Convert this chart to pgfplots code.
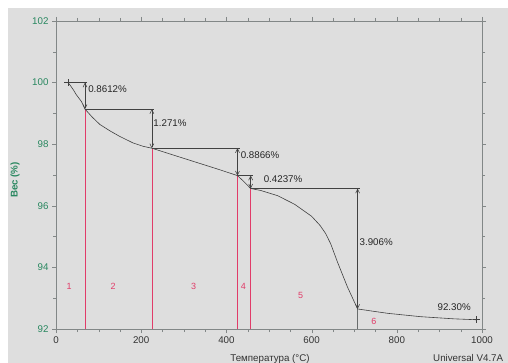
\documentclass[border=0pt]{standalone}
\usepackage{fontspec}
\setmainfont{Liberation Sans}
\usepackage{pgfplots}
\pgfplotsset{compat=1.18}
\usetikzlibrary{arrows.meta}
\definecolor{bg}{RGB}{222,222,222}
\definecolor{ygreen}{RGB}{40,135,95}
\definecolor{segred}{RGB}{225,60,105}
\definecolor{axgray}{RGB}{130,135,135}
\definecolor{curvec}{RGB}{65,65,65}
\begin{document}
\begin{tikzpicture}[font=\fontsize{9.8}{11}\selectfont]
\useasboundingbox (0,0) rectangle (508bp,363bp);
\fill[white] (0,0) rectangle (508bp,363bp);
\fill[bg] (8bp,0) rectangle (508bp,355bp);
\begin{axis}[at={(56bp,34bp)}, anchor=south west, scale only axis,
  width=426bp, height=308bp,
  xmin=0, xmax=1000, ymin=92, ymax=102,
  xtick={0,200,...,1000}, ytick={92,94,...,102},
  minor x tick num=3, minor y tick num=1,
  tick align=outside, axis line style={axgray}, tick style={axgray},
  major tick length=4bp, minor tick length=3bp,
  xticklabel style={text=black!80},
  yticklabel style={text=ygreen},
  /pgf/number format/assume math mode=true,
  /pgf/number format/1000 sep={},
  clip=false]
% red segment lines
\addplot[segred, line width=0.7bp] coordinates {(68,92) (68,99.14)};
\addplot[segred, line width=0.7bp] coordinates {(225,92) (225,97.87)};
\addplot[segred, line width=0.7bp] coordinates {(426,92) (426,96.98)};
\addplot[segred, line width=0.7bp] coordinates {(457,92) (457,96.56)};
\addplot[axgray!80!black, line width=0.6bp] coordinates {(708,92) (708,92.65)};
% horizontal reference lines
\addplot[curvec, line width=0.55bp] coordinates {(28,100.0) (72,100.0)};
\addplot[curvec, line width=0.55bp] coordinates {(68,99.14) (231,99.14)};
\addplot[curvec, line width=0.55bp] coordinates {(225,97.87) (432,97.87)};
\addplot[curvec, line width=0.55bp] coordinates {(426,96.98) (463,96.98)};
\addplot[curvec, line width=0.55bp] coordinates {(457,96.56) (713,96.56)};
% step arrows
\addplot[curvec, line width=0.55bp, {Straight Barb[length=4bp,width=4bp]}-{Straight Barb[length=4bp,width=4bp]}] coordinates {(68,100.0) (68,99.14)};
\addplot[curvec, line width=0.55bp, {Straight Barb[length=4bp,width=4bp]}-{Straight Barb[length=4bp,width=4bp]}] coordinates {(225,99.14) (225,97.87)};
\addplot[curvec, line width=0.55bp, {Straight Barb[length=4bp,width=4bp]}-{Straight Barb[length=4bp,width=4bp]}] coordinates {(426,97.87) (426,96.98)};
\addplot[curvec, line width=0.55bp, {Straight Barb[length=4bp,width=4bp]}-{Straight Barb[length=4bp,width=4bp]}] coordinates {(457,96.98) (457,96.56)};
\addplot[curvec, line width=0.55bp, {Straight Barb[length=4bp,width=4bp]}-{Straight Barb[length=4bp,width=4bp]}] coordinates {(708,96.56) (708,92.65)};
% TGA curve
\addplot[curvec, line width=0.6bp] table {
x y
28 100.00
33 99.92
41 99.76
48 99.60
60 99.38
68 99.14
85 98.88
103 98.64
127 98.43
150 98.25
181 98.04
205 97.93
225 97.87
300 97.54
380 97.19
426 96.98
440 96.80
457 96.56
480 96.50
520 96.33
560 96.05
600 95.66
620 95.36
633 95.10
645 94.76
660 94.20
684 93.37
708 92.65
778 92.51
856 92.40
934 92.33
987 92.30
};
\addplot[curvec, only marks, mark=+, mark size=3.5bp, line width=0.55bp] coordinates {(28,100.0) (987,92.30)};
% labels
\node[anchor=west, inner sep=1bp, text=black!85] at (axis cs:73,99.78) {0.8612\%};
\node[anchor=west, inner sep=1bp, text=black!85] at (axis cs:226,98.70) {1.271\%};
\node[anchor=west, inner sep=1bp, text=black!85] at (axis cs:431,97.65) {0.8866\%};
\node[anchor=west, inner sep=1bp, text=black!85] at (axis cs:485,96.86) {0.4237\%};
\node[anchor=west, inner sep=1bp, text=black!85] at (axis cs:710,94.81) {3.906\%};
\node[anchor=west, inner sep=1bp, text=black!85] at (axis cs:893,92.70) {92.30\%};
% segment numbers
\node[text=segred, font=\fontsize{9}{10}\selectfont] at (axis cs:31,93.37) {1};
\node[text=segred, font=\fontsize{9}{10}\selectfont] at (axis cs:134,93.37) {2};
\node[text=segred, font=\fontsize{9}{10}\selectfont] at (axis cs:323,93.37) {3};
\node[text=segred, font=\fontsize{9}{10}\selectfont] at (axis cs:440,93.37) {4};
\node[text=segred, font=\fontsize{9}{10}\selectfont] at (axis cs:574,93.10) {5};
\node[text=segred, font=\fontsize{9}{10}\selectfont] at (axis cs:746,92.24) {6};
\end{axis}
\node[anchor=base, text=black!80, inner sep=0] at (270bp,1.5bp) {Температура (°C)};
\node[anchor=base west, text=black!80, inner sep=0] at (433bp,1.5bp) {Universal V4.7A};
\node[rotate=90, text=ygreen, inner sep=0] at (15bp,183bp) {\textbf{Вес (\%)}};
\end{tikzpicture}
\end{document}
